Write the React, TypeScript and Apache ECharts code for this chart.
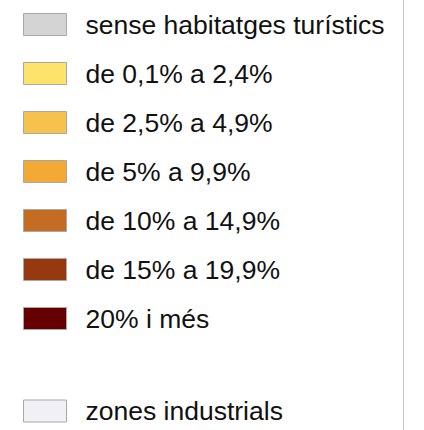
import React, { useEffect, useRef } from "react";
import * as echarts from "echarts";

const categories = [
  "sense habitatges turístics",
  "de 0,1% a 2,4%",
  "de 2,5% a 4,9%",
  "de 5% a 9,9%",
  "de 10% a 14,9%",
  "de 15% a 19,9%",
  "20% i més",
];
const colors = ["#d4d4d4", "#fde36a", "#f6c24b", "#f2aa34", "#c46d22", "#943a0e", "#660000"];
const extraCategories = ["zones industrials"];
const extraColors = ["#f0f0f6"];

export default function App() {
  const ref = useRef<HTMLDivElement>(null);
  useEffect(() => {
    if (!ref.current) return;
    const chart = echarts.init(ref.current, null, { renderer: "svg" });
    const allNames = [...categories, ...extraCategories];
    const allColors = [...colors, ...extraColors];
    const series = allNames.map((name, i) => ({
      type: "bar" as const,
      name,
      data: [] as number[],
      itemStyle: { color: allColors[i], borderColor: "#a8a8a8", borderWidth: 1 },
    }));
    const legendCommon = {
      orient: "vertical" as const,
      left: 23,
      padding: 0,
      itemWidth: 43,
      itemHeight: 22,
      itemGap: 22,
      icon: "rect",
      itemStyle: { borderColor: "#a8a8a8", borderWidth: 1 },
      textStyle: {
        fontFamily: "Liberation Sans, Arial, sans-serif",
        fontSize: 26.5,
        color: "#111",
        padding: [0, 0, 0, 14],
      },
      selectedMode: false,
    };
    chart.setOption({
      animation: false,
      backgroundColor: "#ffffff",
      grid: { left: 0, top: 0, width: 1, height: 1, show: false },
      xAxis: { type: "category", show: false, data: ["a"] },
      yAxis: { type: "value", show: false },
      legend: [
        { ...legendCommon, top: 11, data: categories },
        { ...legendCommon, top: 397.5, data: extraCategories },
      ],
      graphic: [
        {
          type: "line",
          shape: { x1: 403.5, y1: 0, x2: 403.5, y2: 430 },
          style: { stroke: "#c8c8c8", lineWidth: 1 },
        },
      ],
      series,
    });
    return () => chart.dispose();
  }, []);
  return (
    <div
      ref={ref}
      style={{ position: "absolute", left: 0, top: 0, width: 424, height: 430 }}
    />
  );
}
